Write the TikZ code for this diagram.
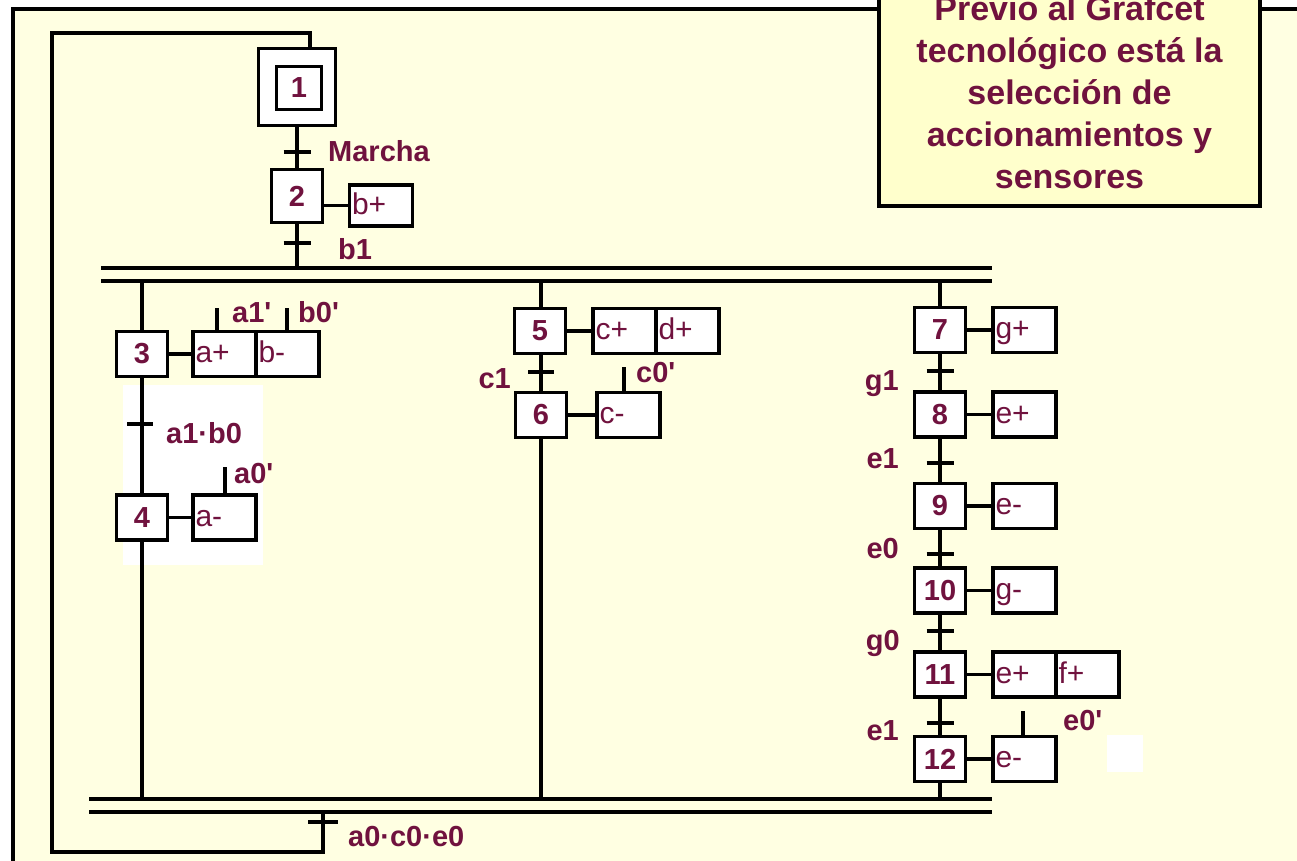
\documentclass[tikz,border=0pt]{standalone}
\usepackage{fontspec}
\newfontfamily\lsans{Liberation Sans}
\definecolor{txt}{RGB}{112,18,62}
\definecolor{bg}{RGB}{255,255,226}
\definecolor{notebg}{RGB}{255,255,204}
\tikzset{
  ln/.style={line width=3.5pt},
  stepbox/.style={draw, line width=3.5pt, fill=white, minimum width=51pt, minimum height=45pt,
    inner sep=0pt, font=\lsans\fontsize{29}{29}\selectfont\bfseries, text=txt},
  actbox/.style={draw, line width=3.5pt, fill=white, minimum height=45pt, text width=58pt,
    inner xsep=2.5pt, inner ysep=0pt, align=left, text height=17pt, text depth=0pt,
    font=\lsans\fontsize{30}{30}\selectfont, text=txt},
  lbl/.style={font=\lsans\fontsize{29}{29}\selectfont\bfseries, text=txt, inner sep=0pt},
  notetxt/.style={font=\lsans\fontsize{34}{34}\selectfont\bfseries, text=txt, inner sep=0pt, anchor=base},
}
\begin{document}
\begin{tikzpicture}[x=1pt,y=-1pt]
\useasboundingbox (0,0) rectangle (1297,861);
\fill[white] (0,0) rectangle (1297,861);
\fill[bg] (13,9) rectangle (1300,865);
\fill[white] (123,385) rectangle (263,565);
\fill[white] (1107,735) rectangle (1143,772);
% outer frame
\draw[ln] (13,870) -- (13,9) -- (1305,9);
% note box
\node[draw, line width=3.5pt, fill=notebg, minimum width=381pt, minimum height=240pt, inner sep=0pt] (note) at (1069.5,86) {};
\node[notetxt] (n1) at (1069.5,21) {Previo al Grafcet};
\node[notetxt] (n2) at (1069.5,63) {tecnológico está la};
\node[notetxt] (n3) at (1069.5,105) {selección de};
\node[notetxt] (n4) at (1069.5,147) {accionamientos y};
\node[notetxt] (n5) at (1069.5,189) {sensores};
% step 1 (initial)
\node[draw, line width=3.5pt, fill=white, minimum width=77pt, minimum height=77pt, inner sep=0pt] (s1) at (297,87) {};
\node[stepbox, minimum width=45pt, minimum height=43pt] (s1i) at (299,88) {1};
% steps
\node[stepbox, minimum height=53pt] (s2) at (297,196) {2};
\node[stepbox] (s3) at (142,354) {3};
\node[stepbox] (s4) at (142,517.5) {4};
\node[stepbox] (s5) at (540,331) {5};
\node[stepbox] (s6) at (541,415) {6};
\node[stepbox] (s7) at (940,330) {7};
\node[stepbox] (s8) at (940,414.5) {8};
\node[stepbox] (s9) at (940,506) {9};
\node[stepbox] (s10) at (940,590.5) {10};
\node[stepbox] (s11) at (940,674.5) {11};
\node[stepbox] (s12) at (940,759) {12};
% actions
\node[actbox, minimum height=41pt] (a2) at (381,205.5) {b+};
\node[actbox] (a3a) at (224.5,354) {a+};
\node[actbox] (a3b) at (287.5,354) {b-};
\node[actbox] (a4) at (224.5,517.5) {a-};
\node[actbox] (a5a) at (624.5,331) {c+};
\node[actbox] (a5b) at (687.5,331) {d+};
\node[actbox] (a6) at (628.5,415) {c-};
\node[actbox] (a7) at (1024.5,330) {g+};
\node[actbox] (a8) at (1024.5,414.5) {e+};
\node[actbox] (a9) at (1024.5,506) {e-};
\node[actbox] (a10) at (1024.5,590.5) {g-};
\node[actbox] (a11a) at (1024.5,674.5) {e+};
\node[actbox] (a11b) at (1087.5,674.5) {f+};
\node[actbox] (a12) at (1024.5,759) {e-};
% action links
\draw[ln] (s2.east |- a2.west) -- (a2.west);
\draw[ln] (s3.east) -- (a3a.west);
\draw[ln] (s4.east) -- (a4.west);
\draw[ln] (s5.east) -- (a5a.west);
\draw[ln] (s6.east) -- (a6.west);
\draw[ln] (s7.east) -- (a7.west);
\draw[ln] (s8.east) -- (a8.west);
\draw[ln] (s9.east) -- (a9.west);
\draw[ln] (s10.east) -- (a10.west);
\draw[ln] (s11.east) -- (a11a.west);
\draw[ln] (s12.east) -- (a12.west);
% bars
\coordinate (dUL) at (101,268); \coordinate (dUR) at (992,268);
\coordinate (dLL) at (101,281); \coordinate (dLR) at (992,281);
\coordinate (cUL) at (89,799);  \coordinate (cUR) at (992,799);
\coordinate (cLL) at (89,812);  \coordinate (cLR) at (992,812);
\draw[ln] (dUL) -- (dUR);
\draw[ln] (dLL) -- (dLR);
\draw[ln] (cUL) -- (cUR);
\draw[ln] (cLL) -- (cLR);
% sequence links
\draw[ln] (s1.south) -- (s2.north);
\draw[ln] (s2.south) -- (s2.south |- dUL);
\draw[ln] (s3.north) -- (s3.north |- dLL);
\draw[ln] (s3.south) -- (s4.north);
\draw[ln] (s4.south) -- (s4.south |- cUL);
\draw[ln] (s5.north -| s6.north) -- (s6.north |- dLL);
\draw[ln] (s5.south -| s6.north) -- (s6.north);
\draw[ln] (s6.south) -- (s6.south |- cUL);
\draw[ln] (s7.north) -- (s7.north |- dLL);
\draw[ln] (s7.south) -- (s8.north);
\draw[ln] (s8.south) -- (s9.north);
\draw[ln] (s9.south) -- (s10.north);
\draw[ln] (s10.south) -- (s11.north);
\draw[ln] (s11.south) -- (s12.north);
\draw[ln] (s12.south) -- (s12.south |- cUL);
% loop back
\coordinate (tb) at (323,812);
\coordinate (lpL) at (52,852);
\coordinate (lpT) at (310,33);
\draw[ln] (tb) |- (lpL) |- (lpT) -- (lpT |- s1.north);
% transitions
\foreach \n/\x/\y/\w in {t12/297/152/13.5, t23/297/243/13.5, t34/140/424/13, t56/541/372/13,
  t78/940/371/13.5, t89/940/463/13.5, t910/940/554/13.5, t1011/940/631/13.5, t1112/940/723/13.5, tb0/323/822/15}{
  \coordinate (\n) at (\x,\y);
  \draw[ln] ([xshift=-\w pt]\n) -- ([xshift=\w pt]\n);
}
% receptivity marks
\coordinate (r1) at (217,308);
\coordinate (r2) at (287,308);
\coordinate (r3) at (225,467);
\coordinate (r4) at (624,367);
\coordinate (r5) at (1023,711);
\draw[ln] (r1) -- (r1 |- a3a.north);
\draw[ln] (r2) -- (r2 |- a3b.north);
\draw[ln] (r3) -- (r3 |- a4.north);
\draw[ln] (r4) -- (r4 |- a6.north);
\draw[ln] (r5) -- (r5 |- a12.north);
% labels
\node[lbl, anchor=base west] (lMarcha) at (328,162) {Marcha};
\node[lbl, anchor=base west] (lb1) at (338,259) {b1};
\node[lbl, anchor=base west] (la1p) at (232,322) {a1'};
\node[lbl, anchor=base west] (lb0p) at (298,322) {b0'};
\node[lbl, anchor=base west] (la1b0) at (166,443) {a1·b0};
\node[lbl, anchor=base west] (la0p) at (234,483) {a0'};
\node[lbl, anchor=base east] (lc1) at (511,388) {c1};
\node[lbl, anchor=base west] (lc0p) at (636,382) {c0'};
\node[lbl, anchor=base east] (lg1) at (899,390) {g1};
\node[lbl, anchor=base east] (le1a) at (899,468) {e1};
\node[lbl, anchor=base east] (le0) at (899,558) {e0};
\node[lbl, anchor=base east] (lg0) at (900,650) {g0};
\node[lbl, anchor=base east] (le1b) at (899,740) {e1};
\node[lbl, anchor=base west] (le0p) at (1063,730) {e0'};
\node[lbl, anchor=base west] (lfin) at (348,846) {a0·c0·e0};
\end{tikzpicture}
\end{document}
